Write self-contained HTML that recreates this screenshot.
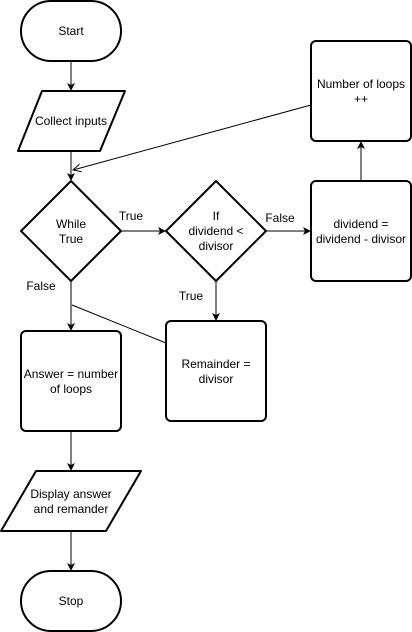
<!DOCTYPE html>
<html><head><style>body{margin:0;background:#fff}svg{display:block}text{font-family:"Liberation Sans",sans-serif;font-size:12px;fill:#000;text-anchor:middle}</style></head><body>
<svg width="412" height="632" viewBox="0 0 412 632">
<defs><marker id="a" markerWidth="8" markerHeight="8" refX="7" refY="4" orient="auto" markerUnits="userSpaceOnUse"><path d="M0,0 L8,4 L0,8 L2,4 Z" fill="#000"/></marker>
<marker id="o" markerWidth="10" markerHeight="10" refX="8" refY="5" orient="auto" markerUnits="userSpaceOnUse"><path d="M0,1 L8,5 L0,9" fill="none" stroke="#000" stroke-width="1"/></marker></defs>
<g fill="#fff" stroke="#000" stroke-width="2" stroke-linejoin="round">
<rect x="21" y="1" width="100" height="60" rx="30"/>
<polygon points="42,91 125,91 100,151 18,151"/>
<polygon points="71,181 121,231 71,281 21,231"/>
<polygon points="216,181 266,231 216,281 166,231"/>
<rect x="311" y="181" width="100" height="100" rx="5"/>
<rect x="311" y="41" width="100" height="100" rx="5"/>
<rect x="166" y="321" width="100" height="100" rx="5"/>
<rect x="21" y="331" width="100" height="100" rx="5"/>
<polygon points="36,471 141,471 106,531 1,531"/>
<rect x="21" y="571" width="100" height="60" rx="30"/>
</g>
<g stroke="#000" stroke-width="1" fill="none">
<line x1="71" y1="61" x2="71" y2="90" marker-end="url(#a)"/>
<line x1="71" y1="151" x2="71" y2="180" marker-end="url(#a)"/>
<line x1="121" y1="231" x2="165" y2="231" marker-end="url(#a)"/>
<line x1="266" y1="231" x2="310" y2="231" marker-end="url(#a)"/>
<line x1="361" y1="181" x2="361" y2="142" marker-end="url(#a)"/>
<line x1="311" y1="105" x2="73" y2="170" marker-end="url(#o)"/>
<line x1="216" y1="281" x2="216" y2="320" marker-end="url(#a)"/>
<line x1="71" y1="281" x2="71" y2="330" marker-end="url(#a)"/>
<line x1="72" y1="305" x2="166" y2="343"/>
<line x1="71" y1="431" x2="71" y2="470" marker-end="url(#a)"/>
<line x1="71" y1="531" x2="71" y2="570" marker-end="url(#a)"/>
</g>
<text x="71" y="35">Start</text>
<text x="71" y="125">Collect inputs</text>
<text x="71" y="228">While</text><text x="71" y="243">True</text>
<text x="216" y="220">If</text><text x="216" y="235">dividend &lt;</text><text x="216" y="250">divisor</text>
<text x="361" y="228">dividend =</text><text x="361" y="243">dividend - divisor</text>
<text x="361" y="88">Number of loops</text><text x="361" y="103">++</text>
<text x="216" y="368">Remainder =</text><text x="216" y="383">divisor</text>
<text x="71" y="378">Answer = number</text><text x="71" y="393">of loops</text>
<text x="71" y="498">Display answer</text><text x="71" y="513">and remander</text>
<text x="71" y="605">Stop</text>
<text x="131" y="220">True</text>
<text x="280" y="222">False</text>
<text x="41" y="290">False</text>
<text x="191" y="300">True</text>
</svg>
</body></html>
